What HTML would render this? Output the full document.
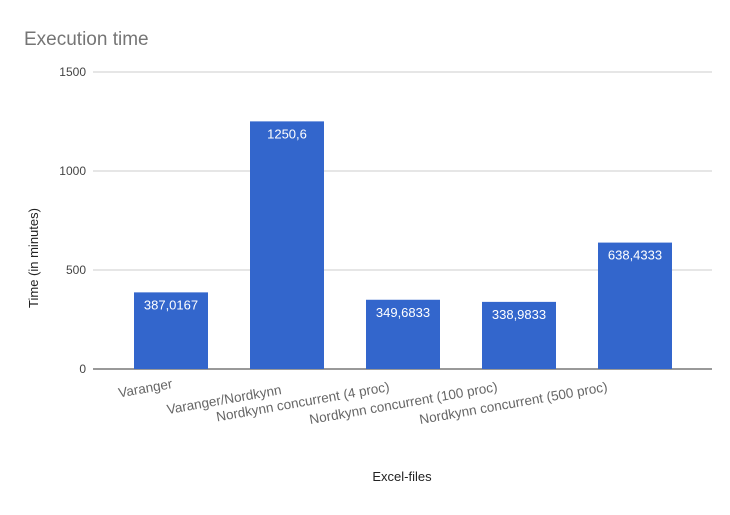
<!DOCTYPE html>
<html><head><meta charset="utf-8"><style>
body{margin:0;background:#fff;}
svg{font-family:"Liberation Sans",Roboto,sans-serif;display:block}
</style></head><body>
<svg width="730" height="515">
<rect width="730" height="515" fill="#fff"/>
<text x="24" y="45" font-size="19" fill="#757575">Execution time</text>
<g id="grid"></g>
<g id="bars"></g>
<g id="xlabels"></g>
<text transform="translate(38,258) rotate(-90)" text-anchor="middle" font-size="13" fill="#222">Time (in minutes)</text>
<text x="402" y="481" text-anchor="middle" font-size="13" fill="#222">Excel-files</text>
</svg>
<script>
const categories=["Varanger","Varanger/Nordkynn","Nordkynn concurrent (4 proc)","Nordkynn concurrent (100 proc)","Nordkynn concurrent (500 proc)"];
const values=[387.0167,1250.6,349.6833,338.9833,638.4333];
const valueLabels=["387,0167","1250,6","349,6833","338,9833","638,4333"];
const yTicks=[0,500,1000,1500];
const NS="http://www.w3.org/2000/svg";
const y0=369,ppu=297/1500,left=113,band=116,bw=74;
const y=v=>y0-v*ppu;
const cx=i=>left+band*(i+0.5);
function mk(tag,attrs,parent,text){const e=document.createElementNS(NS,tag);for(const k in attrs)e.setAttribute(k,attrs[k]);if(text!==undefined)e.textContent=text;parent.appendChild(e);return e;}
const grid=document.getElementById('grid');
yTicks.forEach(t=>{
  const l=mk('line',{x1:93,x2:712,y1:y(t),y2:y(t),stroke:t===0?'#333':'#ccc','stroke-width':1},grid);
  
  
  const tx=mk('text',{x:86,y:y(t)+4,'text-anchor':'end','font-size':12,fill:'#444'},grid,String(t));
  
  
});
const bars=document.getElementById('bars');
values.forEach((v,i)=>{
  const r=mk('rect',{x:cx(i)-bw/2,y:y(v),width:bw,height:y0-y(v),fill:'#3366cc'},bars);
  
  
  const t=mk('text',{x:cx(i),y:y(v)+17,'text-anchor':'middle','font-size':13,fill:'#fff'},bars,valueLabels[i]);
  
  
});
const xl=document.getElementById('xlabels');
const endOff=[2,-5,-13,-21,-27];
const endY=[388,394,391,391,391];
categories.forEach((c,i)=>{
  const px=cx(i)+endOff[i],yy=endY[i];
  const t=mk('text',{x:px,y:yy,'text-anchor':'end','font-size':13.5,fill:'#666',transform:`rotate(-10 ${px} ${yy})`},xl,c);
  
  
});
</script>
</body></html>
